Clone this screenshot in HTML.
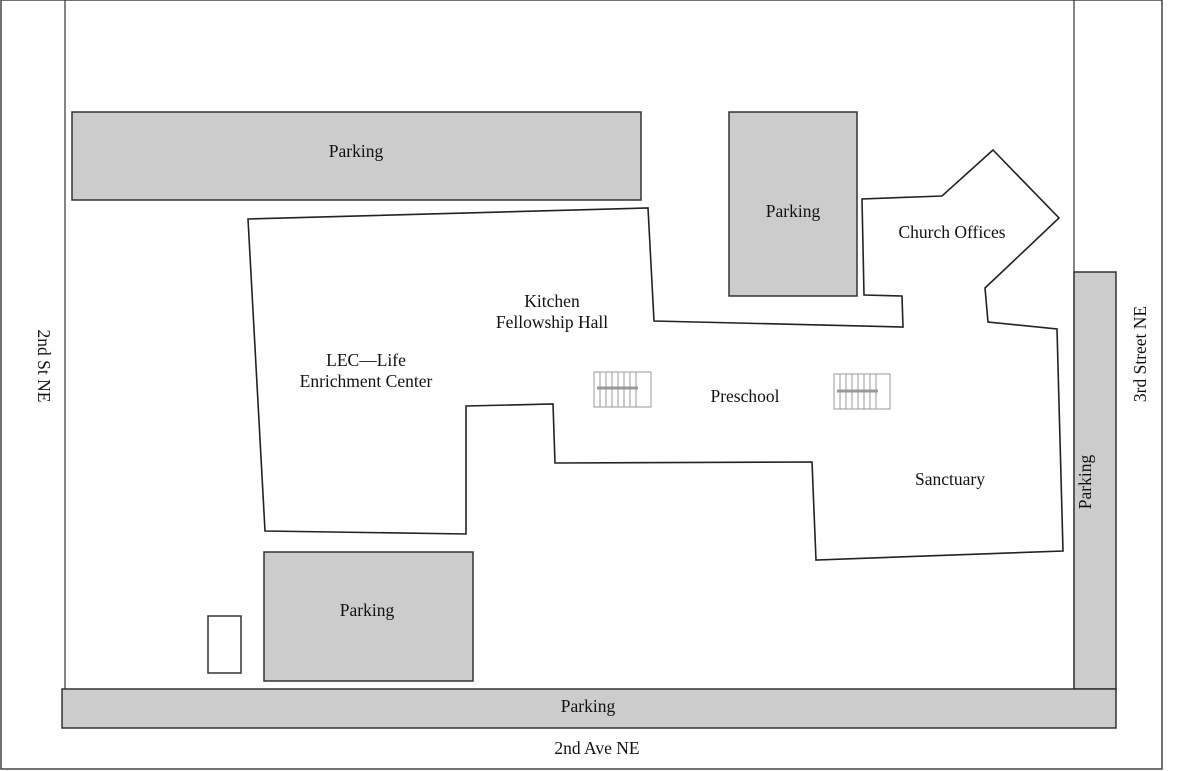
<!DOCTYPE html>
<html><head><meta charset="utf-8"><style>
html,body{margin:0;padding:0;background:#fff;}
svg{display:block;}
text{font-family:"Liberation Serif",serif;font-size:17.5px;fill:#111;}
</style></head><body>
<svg width="1182" height="771" viewBox="0 0 1182 771" xmlns="http://www.w3.org/2000/svg">
<rect x="1" y="0" width="1161" height="769" fill="#fff" stroke="#444" stroke-width="1.5"/>
<line x1="65" y1="0" x2="65" y2="689" stroke="#333" stroke-width="1.2"/>
<line x1="1074" y1="0" x2="1074" y2="689" stroke="#333" stroke-width="1.2"/>
<g fill="#cccccc" stroke="#333" stroke-width="1.5">
<rect x="72" y="112" width="569" height="88"/>
<rect x="729" y="112" width="128" height="184"/>
<rect x="264" y="552" width="209" height="129"/>
<rect x="1074" y="272" width="42" height="417"/>
<rect x="62" y="689" width="1054" height="39"/>
</g>
<rect x="208" y="616" width="33" height="57" fill="#fff" stroke="#333" stroke-width="1.5"/>
<polygon fill="none" stroke="#222" stroke-width="1.6" points="248,219 648,208 654,321 903,327 902,296 864,295 862,199 942,196 993,150 1059,218 985,288 988,322 1057,329 1063,551 816,560 812,462 555,463 553,404 466,406 466,534 265,531"/>
<g stroke="#999" stroke-width="1" fill="#fff">
<rect x="594" y="372" width="57" height="35"/>
<rect x="834" y="374" width="56" height="35"/>
</g>
<g stroke="#999" stroke-width="1">
<path d="M600,372V407M606,372V407M612,372V407M618,372V407M624,372V407M630,372V407M636,372V407"/>
<path d="M840,374V409M846,374V409M852,374V409M858,374V409M864,374V409M870,374V409M876,374V409"/>
</g>
<line x1="597" y1="388" x2="638" y2="388" stroke="#999" stroke-width="3"/>
<line x1="837" y1="391" x2="878" y2="391" stroke="#999" stroke-width="3"/>
<text x="356" y="157" text-anchor="middle">Parking</text>
<text x="793" y="217" text-anchor="middle">Parking</text>
<text x="367" y="616" text-anchor="middle">Parking</text>
<text x="588" y="712" text-anchor="middle">Parking</text>
<text x="952" y="238" text-anchor="middle">Church Offices</text>
<text x="552" y="307" text-anchor="middle">Kitchen</text>
<text x="552" y="328" text-anchor="middle">Fellowship Hall</text>
<text x="366" y="366" text-anchor="middle">LEC—Life</text>
<text x="366" y="387" text-anchor="middle">Enrichment Center</text>
<text x="745" y="402" text-anchor="middle">Preschool</text>
<text x="950" y="485" text-anchor="middle">Sanctuary</text>
<text x="597" y="754" text-anchor="middle">2nd Ave NE</text>
<text transform="translate(1091,482) rotate(-90)" text-anchor="middle">Parking</text>
<text transform="translate(1146,354) rotate(-90)" text-anchor="middle">3rd Street NE</text>
<text transform="translate(38,366) rotate(90)" text-anchor="middle">2nd St NE</text>
</svg>
</body></html>
